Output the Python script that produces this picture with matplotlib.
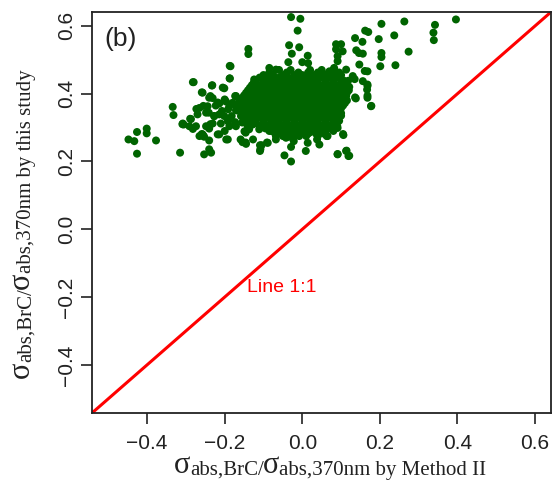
import matplotlib
matplotlib.use("Agg")
import matplotlib.pyplot as plt
from matplotlib.transforms import IdentityTransform

# ---------------- data ----------------
# scattered / outer points: x = by Method II, y = by this study
x_outer = [-0.029, -0.005, -0.012, 0.396, 0.263, 0.204, 0.342, 0.338, 0.339, 0.162,
           0.170, 0.237, 0.197, 0.136, 0.155, 0.274, 0.204, 0.204, 0.201, 0.240,
           0.087, 0.100, 0.087, 0.104, 0.139, 0.146, 0.156, 0.091, 0.091, -0.034,
           -0.008, -0.139, -0.139, -0.027, 0.014, -0.036, 0.000, 0.015, -0.185, -0.187,
           -0.280, -0.233, -0.201, -0.257, -0.171, -0.334, -0.332, -0.289, -0.306, -0.265,
           -0.270, -0.248, -0.448, -0.433, -0.426, -0.401, -0.401, -0.377, -0.426, -0.315,
           -0.253, -0.240, -0.235, -0.108, -0.105, -0.089, -0.046, -0.029, -0.029, -0.022,
           0.177, -0.231, -0.223, -0.214, -0.227, -0.207, -0.197, -0.188, -0.201, -0.192,
           -0.210, -0.231, -0.240, -0.257, -0.253, -0.240, -0.214, -0.192, -0.188, -0.173,
           -0.171, -0.180, -0.154, -0.145, -0.128, -0.149, 0.009, 0.014, 0.038, 0.044,
           0.063, 0.091, 0.113, 0.119, 0.106, 0.091, 0.168, 0.167, 0.168, 0.156,
           0.138, 0.161, 0.147, 0.168, 0.113, 0.130, 0.121, 0.113, 0.082, 0.070,
           0.052, -0.085, -0.068, -0.102, -0.124, -0.128, -0.149, -0.154, -0.158, -0.149,
           -0.137, -0.111, -0.085, -0.068, -0.034, -0.008, 0.018, 0.052, 0.070, 0.087,
           -0.068, -0.042, -0.171, -0.248, -0.274, -0.265, -0.291, -0.308, -0.240, -0.244,
           0.105, 0.091, 0.114, 0.121, 0.136, 0.168, 0.168, 0.178, 0.135, 0.118,
           -0.309, -0.287, -0.282, -0.259, -0.255, -0.282, -0.259, -0.273,
           -0.237, -0.232, -0.218, -0.205, -0.200, -0.187, -0.187, -0.191, -0.191, -0.182,
           -0.173, -0.200, -0.196, -0.218, -0.237, -0.241, -0.255, -0.227, -0.214, -0.164,
           -0.155, -0.146, -0.155, -0.146, -0.159, -0.146, -0.141, -0.127, -0.109, -0.091,
           -0.109]
y_outer = [0.626, 0.621, 0.586, 0.619, 0.613, 0.606, 0.603, 0.580, 0.558, 0.586,
           0.582, 0.572, 0.561, 0.564, 0.553, 0.524, 0.520, 0.508, 0.481, 0.484,
           0.546, 0.546, 0.531, 0.525, 0.528, 0.520, 0.518, 0.511, 0.496, 0.543,
           0.537, 0.532, 0.517, 0.518, 0.512, 0.493, 0.493, 0.490, 0.481, 0.445,
           0.434, 0.424, 0.416, 0.403, 0.393, 0.361, 0.337, 0.326, 0.309, 0.358,
           0.339, 0.344, 0.265, 0.260, 0.287, 0.297, 0.283, 0.262, 0.223, 0.226,
           0.221, 0.236, 0.226, 0.236, 0.248, 0.255, 0.218, 0.200, 0.243, 0.260,
           0.363, 0.387, 0.365, 0.371, 0.334, 0.349, 0.377, 0.363, 0.334, 0.319,
           0.312, 0.312, 0.297, 0.280, 0.273, 0.262, 0.280, 0.265, 0.304, 0.316,
           0.351, 0.373, 0.257, 0.252, 0.309, 0.289, 0.231, 0.255, 0.265, 0.250,
           0.275, 0.221, 0.231, 0.216, 0.278, 0.299, 0.388, 0.412, 0.427, 0.437,
           0.386, 0.467, 0.486, 0.466, 0.471, 0.452, 0.420, 0.393, 0.476, 0.466,
           0.461, 0.476, 0.471, 0.442, 0.442, 0.412, 0.383, 0.353, 0.334, 0.319,
           0.295, 0.295, 0.290, 0.275, 0.273, 0.275, 0.285, 0.290, 0.304, 0.324,
           0.265, 0.270, 0.304, 0.304, 0.304, 0.275, 0.304, 0.312, 0.388, 0.363,
           0.281, 0.222, 0.232, 0.217, 0.389, 0.394, 0.423, 0.364, 0.443, 0.438,
           0.310, 0.325, 0.296, 0.281, 0.276, 0.434, 0.404, 0.355,
           0.393, 0.425, 0.374, 0.418, 0.383, 0.482, 0.445, 0.354, 0.320, 0.334,
           0.393, 0.290, 0.265, 0.280, 0.310, 0.344, 0.364, 0.334, 0.339, 0.364,
           0.383, 0.393, 0.315, 0.285, 0.265, 0.256, 0.305, 0.265, 0.231, 0.256,
           0.248]

# dense core of the cloud, read row by row: (y value, x values on that row)
core_y = [0.470, 0.4625, 0.455, 0.4475, 0.440, 0.4325, 0.425, 0.4175, 0.410, 0.4025,
          0.395, 0.3875, 0.380, 0.3725, 0.365, 0.3575, 0.350, 0.3425, 0.335, 0.3275,
          0.320, 0.3125, 0.305, 0.2975, 0.290, 0.2825, 0.275]
core_x = [
    [-0.06, -0.03, 0.02, 0.05, 0.08],
    [-0.085, -0.04, -0.01, 0.015, 0.04, 0.07, 0.095],
    [-0.10, -0.075, -0.05, -0.02, 0.00, 0.03, 0.055, 0.085, 0.10],
    [-0.11, -0.085, -0.06, -0.035, -0.01, 0.01, 0.025, 0.045, 0.07, 0.09],
    [-0.12, -0.095, -0.07, -0.045, -0.025, -0.005, 0.015, 0.035, 0.06, 0.08, 0.105],
    [-0.125, -0.10, -0.08, -0.06, -0.04, -0.02, 0.00, 0.02, 0.04, 0.06, 0.08, 0.10],
    [-0.13, -0.11, -0.09, -0.07, -0.05, -0.03, -0.01, 0.01, 0.03, 0.05, 0.07, 0.09, 0.11],
    [-0.135, -0.115, -0.095, -0.075, -0.055, -0.035, -0.015, 0.005, 0.025, 0.045, 0.065, 0.085, 0.105, 0.115],
    [-0.14, -0.12, -0.10, -0.08, -0.06, -0.04, -0.02, 0.00, 0.02, 0.04, 0.06, 0.08, 0.10, 0.12],
    [-0.145, -0.125, -0.105, -0.085, -0.065, -0.045, -0.025, -0.005, 0.015, 0.035, 0.055, 0.075, 0.095, 0.115],
    [-0.15, -0.13, -0.11, -0.09, -0.07, -0.05, -0.03, -0.01, 0.01, 0.03, 0.05, 0.07, 0.09, 0.11],
    [-0.155, -0.135, -0.115, -0.095, -0.075, -0.055, -0.035, -0.015, 0.005, 0.025, 0.045, 0.065, 0.085, 0.105],
    [-0.16, -0.14, -0.12, -0.10, -0.08, -0.06, -0.04, -0.02, 0.00, 0.02, 0.04, 0.06, 0.08, 0.10, 0.115],
    [-0.165, -0.145, -0.125, -0.105, -0.085, -0.065, -0.045, -0.025, -0.005, 0.015, 0.035, 0.055, 0.075, 0.095, 0.11],
    [-0.17, -0.15, -0.13, -0.11, -0.09, -0.07, -0.05, -0.03, -0.01, 0.01, 0.03, 0.05, 0.07, 0.09, 0.105],
    [-0.16, -0.14, -0.12, -0.10, -0.08, -0.06, -0.04, -0.02, 0.00, 0.02, 0.04, 0.06, 0.08, 0.10],
    [-0.165, -0.145, -0.125, -0.105, -0.085, -0.065, -0.045, -0.025, -0.005, 0.015, 0.035, 0.055, 0.075, 0.095],
    [-0.155, -0.135, -0.115, -0.095, -0.075, -0.055, -0.035, -0.015, 0.005, 0.025, 0.045, 0.065, 0.085, 0.10],
    [-0.15, -0.13, -0.11, -0.09, -0.07, -0.05, -0.03, -0.01, 0.01, 0.03, 0.05, 0.07, 0.09, 0.10],
    [-0.145, -0.125, -0.105, -0.085, -0.065, -0.045, -0.025, -0.005, 0.015, 0.035, 0.055, 0.075, 0.09],
    [-0.14, -0.12, -0.10, -0.08, -0.06, -0.04, -0.02, 0.00, 0.02, 0.04, 0.06, 0.08, 0.095],
    [-0.125, -0.10, -0.08, -0.06, -0.04, -0.02, 0.00, 0.02, 0.04, 0.06, 0.08],
    [-0.11, -0.09, -0.07, -0.05, -0.03, -0.01, 0.01, 0.03, 0.05, 0.07, 0.09],
    [-0.095, -0.07, -0.05, -0.03, -0.01, 0.01, 0.03, 0.05, 0.07],
    [-0.08, -0.06, -0.04, -0.02, 0.00, 0.02, 0.04, 0.06, 0.08],
    [-0.07, -0.045, -0.025, -0.005, 0.015, 0.035, 0.055],
    [-0.05, -0.02, 0.01, 0.04, 0.065],
]

tick_values = [-0.4, -0.2, 0.0, 0.2, 0.4, 0.6]
tick_labels = ["\u22120.4", "\u22120.2", "0.0", "0.2", "0.4", "0.6"]
axis_limits = (-0.542, 0.641)

panel_label = "(b)"
line_label = "Line 1:1"
xlabel_pieces = ["\u03c3", "abs,BrC/", "\u03c3", "abs,370nm by Method II"]
ylabel_pieces = ["\u03c3", "abs,BrC/", "\u03c3", "abs,370nm by this study"]

# ---------------- build data ----------------
xs = list(x_outer)
ys = list(y_outer)
for yv, row in zip(core_y, core_x):
    xs.extend(row)
    ys.extend([yv] * len(row))

# ---------------- figure ----------------
W, H, DPI = 553, 497, 100
fig = plt.figure(figsize=(W / DPI, H / DPI), dpi=DPI)
ax = fig.add_axes([92 / W, 84 / H, 459 / W, 401 / H])

SANS = ["Liberation Sans", "DejaVu Sans"]
SERIF = ["Liberation Serif", "DejaVu Serif"]

ax.scatter(xs, ys, s=33, color="#006400", edgecolors="none", zorder=3)
ax.axline((0, 0), slope=1, color="#ff0000", lw=2.2, zorder=2)

ax.set_xlim(*axis_limits)
ax.set_ylim(*axis_limits)

ax.set_xticks(tick_values)
ax.set_xticklabels(tick_labels, fontsize=15, family=SANS, color="#222222")
ax.set_yticks(tick_values)
ax.set_yticklabels(tick_labels, fontsize=15, family=SANS, color="#222222",
                   rotation=90, va="center", ha="right")
ax.tick_params(axis="x", direction="out", length=8, width=1.2, pad=7, color="#222222")
ax.tick_params(axis="y", direction="out", length=8, width=1.2, pad=3.5, color="#222222")
for sp in ax.spines.values():
    sp.set_linewidth(1.3)
    sp.set_color("#222222")

ax.text(-0.510, 0.560, panel_label, fontsize=19, family=SANS, color="#222222",
        ha="left", va="center")
ax.text(-0.142, -0.171, line_label, fontsize=14, family=SANS, color="#ff0000",
        ha="left", va="center")

# ---------------- rich axis labels (large sigma + normal text) ----------------
renderer = fig.canvas.get_renderer()


def rich_label(pieces, center, baseline, vertical):
    sizes = [22 if p == "\u03c3" else 15 for p in pieces]
    raises = [2 if p == "\u03c3" else 0 for p in pieces]
    rot = 90 if vertical else 0
    objs, lens = [], []
    for p, sz in zip(pieces, sizes):
        t = fig.text(0, 0, p, fontsize=sz, family=SERIF, color="#222222",
                     rotation=rot, rotation_mode="anchor", ha="left",
                     va="baseline", transform=IdentityTransform())
        bb = t.get_window_extent(renderer)
        objs.append(t)
        lens.append((bb.height if vertical else bb.width) - 0.5)
    total = sum(lens)
    pos = center - total / 2
    for t, L, rz in zip(objs, lens, raises):
        if vertical:
            t.set_position((baseline - rz, pos))
        else:
            t.set_position((pos, baseline + rz))
        pos += L


rich_label(xlabel_pieces, center=330, baseline=H - 475, vertical=False)
rich_label(ylabel_pieces, center=H - 224, baseline=31, vertical=True)

fig.savefig("out.png", dpi=DPI)
